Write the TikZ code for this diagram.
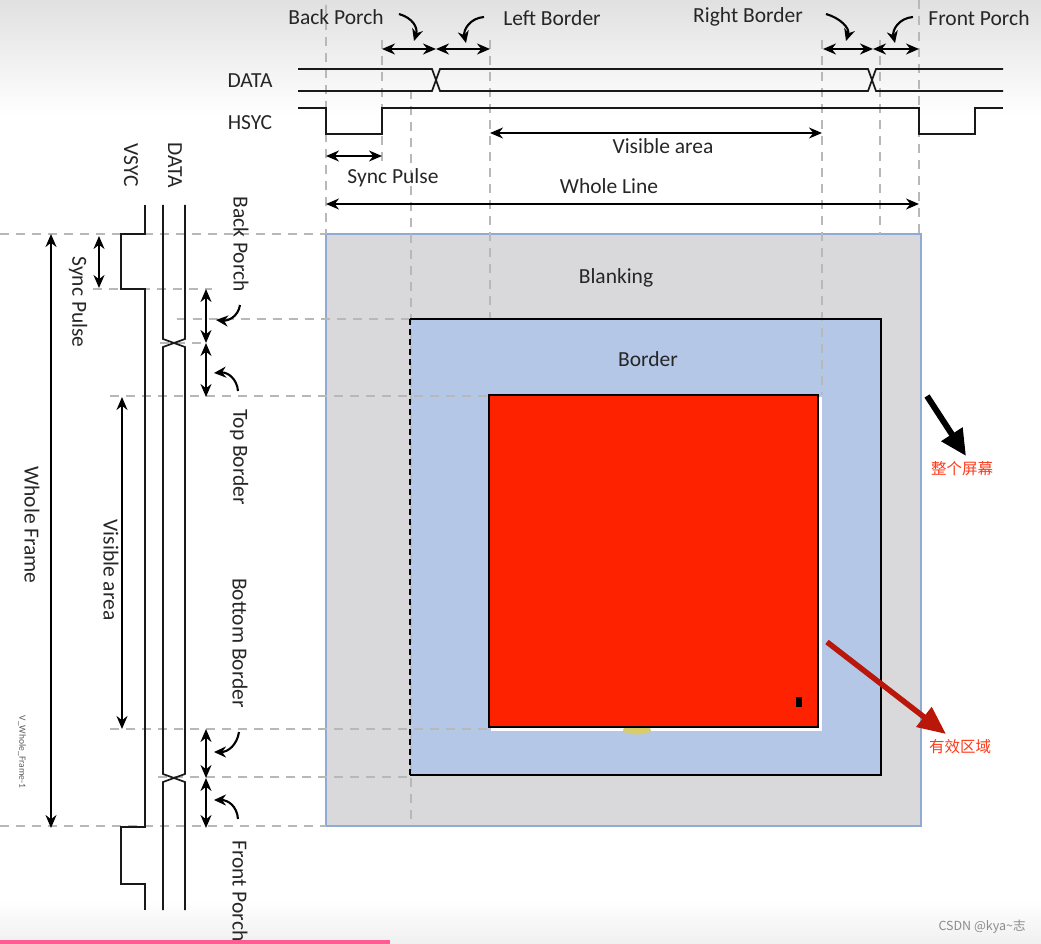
\documentclass[tikz,border=0pt]{standalone}
\usepackage{fontspec}
\setmainfont{Carlito}
\newfontfamily\cjk{Noto Sans CJK SC}
\usetikzlibrary{arrows.meta}
\definecolor{blankgray}{HTML}{D9D9DB}
\definecolor{screenblue}{HTML}{8FABD3}
\definecolor{bordblue}{HTML}{B4C7E7}
\definecolor{redarea}{HTML}{FF2200}
\definecolor{cnred}{HTML}{FF3A1A}
\definecolor{darkredarrow}{HTML}{B8170A}
\definecolor{guidegray}{HTML}{B8B8B8}
\definecolor{pinkbar}{HTML}{FF5C93}
\definecolor{blob}{HTML}{D9CC6A}
\begin{document}
\begin{tikzpicture}[x=1pt,y=-1pt,
 lbl/.style={font=\fontsize{21.5}{24}\selectfont, text=black!85, inner sep=0pt},
 vlbl/.style={lbl, rotate=-90},
 cnlbl/.style={font=\cjk\fontsize{15.5}{18}\selectfont, text=cnred, inner sep=0pt},
 sig/.style={line width=1.7pt, black!90},
 guide/.style={guidegray, line width=1.4pt, dash pattern=on 9pt off 7pt},
 dim/.style={line width=1.9pt, {Stealth[length=13pt,width=11pt]}-{Stealth[length=13pt,width=11pt]}},
 curv/.style={line width=2.1pt, -{Stealth[length=12pt,width=11pt]}},
]
\useasboundingbox (0,0) rectangle (1041,944);
\shade[top color=black!12, bottom color=white] (0,0) rectangle (1041,115);
\shade[top color=white, bottom color=black!6] (0,900) rectangle (1041,944);

% ---------- screen ----------
\draw[fill=blankgray, draw=screenblue, line width=1.8pt] (326,234) rectangle (921,826);
\fill[bordblue] (410,319) rectangle (881,775);
\draw[white, line width=3pt] (491,729.5) -- (820.5,729.5) -- (820.5,397);
\fill[blob] (637,730) ellipse [x radius=14, y radius=4.5];

% ---------- guide lines ----------
\draw[guide] (326,5) -- (326,234);
\draw[guide] (382,40) -- (382,165);
\draw[guide] (411,90) -- (411,826);
\draw[guide] (490,40) -- (490,319);
\draw[guide] (822,40) -- (822,395);
\draw[guide] (880,40) -- (880,234);
\draw[guide] (919,0) -- (919,234);
\draw[guide] (0,234) -- (326,234);
\draw[guide] (93,289) -- (212,289);
\draw[guide] (177,319) -- (410,319);
\draw[guide] (160,343) -- (205,343);
\draw[guide] (110,396) -- (490,396);
\draw[guide] (110,729) -- (490,729);
\draw[guide] (158,777) -- (410,777);
\draw[guide] (0,826) -- (326,826);

\draw[line width=2.2pt] (410,775) -- (881,775) -- (881,319) -- (410,319);
\draw[line width=2.6pt, dash pattern=on 6pt off 4pt] (410,319) -- (410,775);
\draw[fill=redarea, line width=2.2pt] (489,395) rectangle (818,727);
\fill (796,697) rectangle (802,707);

\node[lbl] (blanking) at (616,278) {Blanking};
\node[lbl] (border) at (648,359) {Border};

% ---------- top timing ----------
\draw[sig] (298,69) -- (432,69) -- (440,91) -- (868,91) -- (876,69) -- (1003,69);
\draw[sig] (298,91) -- (432,91) -- (440,69) -- (868,69) -- (876,91) -- (1003,91);
\draw[sig] (298,108) -- (326,108) -- (326,134) -- (382,134) -- (382,108) -- (919,108) -- (919,134) -- (975,134) -- (975,108) -- (1003,108);

\node[lbl] (tbp) at (336,17) {Back Porch};
\node[lbl] (tlb) at (552,18) {Left Border};
\node[lbl] (trb) at (748,17) {Right Border};
\node[lbl] (tfp) at (979,18) {Front Porch};
\node[lbl] (tdata) at (250,81) {DATA};
\node[lbl] (thsyc) at (250,123) {HSYC};
\node[lbl] (tvis) at (663,146) {Visible area};
\node[lbl] (tsync) at (393,178) {Sync Pulse};
\node[lbl] (twl) at (609,186) {Whole Line};

\coordinate (h1) at (382,49); \coordinate (h2) at (436,49); \coordinate (h3) at (490,49);
\coordinate (h4) at (823,49); \coordinate (h5) at (873,49); \coordinate (h6) at (919,49);
\draw[dim] (h1) -- (h2); \draw[dim] (h2) -- (h3);
\draw[dim] (h4) -- (h5); \draw[dim] (h5) -- (h6);
\coordinate (va1) at (490,133); \coordinate (va2) at (822,133);
\draw[dim] (va1) -- (va2);
\coordinate (sp1) at (326,156); \coordinate (sp2) at (382,156);
\draw[dim] (sp1) -- (sp2);
\coordinate (wl1) at (326,204); \coordinate (wl2) at (919,204);
\draw[dim] (wl1) -- (wl2);

\draw[curv] (399,14) .. controls (413,18) and (418,28) .. (414,41);
\draw[curv] (484,17) .. controls (470,18) and (463,30) .. (466,43);
\draw[curv] (826,14) .. controls (840,18) and (850,28) .. (846,41);
\draw[curv] (913,17) .. controls (899,18) and (892,30) .. (895,43);

% ---------- left timing ----------
\draw[sig] (145,205) -- (145,234) -- (121,234) -- (121,289) -- (145,289) -- (145,827) -- (121,827) -- (121,884) -- (145,884) -- (145,910);
\draw[sig] (163,205) -- (163,339) -- (185,347) -- (185,774) -- (163,782) -- (163,910);
\draw[sig] (185,205) -- (185,339) -- (163,347) -- (163,774) -- (185,782) -- (185,910);

\node[vlbl] (lvsyc) at (131,165) {VSYC};
\node[vlbl] (ldata) at (175,165) {DATA};
\node[vlbl] (lbp) at (241,244) {Back Porch};
\node[vlbl] (ltb) at (239,457) {Top Border};
\node[vlbl] (lbb) at (240,643) {Bottom Border};
\node[vlbl] (lfp) at (240,891) {Front Porch};
\node[vlbl] (lsp) at (78,302) {Sync Pulse};
\node[vlbl] (lwf) at (32,525) {Whole Frame};
\node[vlbl] (lva) at (111,570) {Visible area};
\node[rotate=-90, font=\fontsize{9.5}{11}\selectfont, text=black!65, inner sep=0pt] (lvwf) at (22,752) {V\_Whole\_Frame-1};

\coordinate (v1) at (206,289); \coordinate (v2) at (206,343); \coordinate (v3) at (206,397);
\coordinate (v4) at (206,729); \coordinate (v5) at (206,778); \coordinate (v6) at (206,828);
\draw[dim] (v1) -- (v2); \draw[dim] (v2) -- (v3);
\draw[dim] (v4) -- (v5); \draw[dim] (v5) -- (v6);
\coordinate (vs1) at (99,236); \coordinate (vs2) at (99,288);
\draw[dim] (vs1) -- (vs2);
\coordinate (wf1) at (51,234); \coordinate (wf2) at (51,828);
\draw[dim] (wf1) -- (wf2);
\coordinate (vv1) at (122,397); \coordinate (vv2) at (122,729);
\draw[dim] (vv1) -- (vv2);

\draw[curv] (240,305) .. controls (238,317) and (228,321) .. (216,320);
\draw[curv] (238,391) .. controls (237,379) and (228,372) .. (214,373);
\draw[curv] (239,732) .. controls (237,745) and (228,752) .. (214,752);
\draw[curv] (238,819) .. controls (237,806) and (228,800) .. (214,800);

% ---------- annotations ----------
\coordinate (ba1) at (927,396); \coordinate (ba2) at (966,456);
\draw[line width=6pt, black, -{Triangle[length=26pt,width=24pt]}] (ba1) -- (ba2);
\node[cnlbl] (screen) at (962,469) {整个屏幕};
\coordinate (ra1) at (827,642); \coordinate (ra2) at (946,734);
\draw[line width=5.5pt, darkredarrow, -{Triangle[length=28pt,width=24pt]}] (ra1) -- (ra2);
\node[cnlbl] (valid) at (960,747) {有效区域};
\node[font=\cjk\fontsize{12.5}{14}\selectfont, text=black!45, inner sep=0pt] (wm) at (982,927) {CSDN @kya\textasciitilde 志};
\fill[pinkbar] (0,939.5) rectangle (390,944);
\end{tikzpicture}
\end{document}
